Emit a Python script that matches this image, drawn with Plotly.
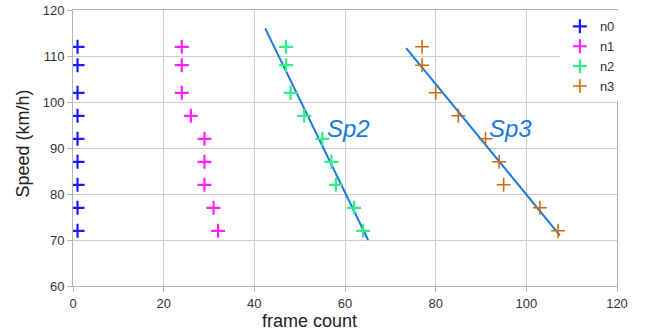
import plotly.graph_objects as go

speed = [112, 108, 102, 97, 92, 87, 82, 77, 72]
n0 = [1, 1, 1, 1, 1, 1, 1, 1, 1]
n1 = [24, 24, 24, 26, 29, 29, 29, 31, 32]
n2 = [47, 47, 48, 51, 55, 57, 58, 62, 64]
n3 = [77, 77, 80, 85, 91, 94, 95, 103, 107]

sp2_x = [42.4, 65.1]
sp2_y = [116.0, 70.0]
sp3_x = [73.5, 107.4]
sp3_y = [111.7, 71.0]

labels = ["Sp2", "Sp3"]
label_x = [60.8, 96.5]
label_y = [94.3, 94.3]

fig = go.Figure()
fig.add_trace(go.Scatter(x=sp2_x, y=sp2_y, mode="lines", line=dict(color="#1a7ae0", width=2), showlegend=False))
fig.add_trace(go.Scatter(x=sp3_x, y=sp3_y, mode="lines", line=dict(color="#1a7ae0", width=2), showlegend=False))

series = [("n0", n0, "#1a1aff", 2.2),
          ("n1", n1, "#ff22ff", 2.2),
          ("n2", n2, "#33ee88", 2.2),
          ("n3", n3, "#d06a10", 1.6)]
for name, xs, col, w in series:
    fig.add_trace(go.Scatter(x=xs, y=speed, mode="markers", name=name,
                             marker=dict(symbol="cross-thin", size=10, color=col,
                                         line=dict(color=col, width=w))))

for t, x, y in zip(labels, label_x, label_y):
    fig.add_annotation(x=x, y=y, text="<i>" + t + "</i>", showarrow=False,
                       font=dict(size=24, color="#1a7ae0", family="Liberation Sans"))

# axis titles (placed as in the reference, slightly off-centre)
fig.add_annotation(xref="paper", yref="paper", x=(309 - 73) / 544, y=-(321 - 286) / 276,
                   text="frame count", showarrow=False, xanchor="center", yanchor="middle",
                   font=dict(size=18, color="#222222"))
fig.add_annotation(xref="paper", yref="paper", x=-(73 - 22) / 544, y=(286 - 143.5) / 276,
                   text="Speed (km/h)", showarrow=False, textangle=-90,
                   xanchor="center", yanchor="middle", font=dict(size=18, color="#222222"))

fig.update_layout(
    width=645, height=332,
    margin=dict(l=73, r=28, t=10, b=46, autoexpand=False),
    paper_bgcolor="white", plot_bgcolor="white",
    font=dict(family="Liberation Sans", size=13, color="#333333"),
    legend=dict(x=0.895, y=0.995, xanchor="left", yanchor="top", bgcolor="white",
                font=dict(size=13, color="#333333"), tracegroupgap=0, itemwidth=30,
                borderwidth=0),
    showlegend=True,
)
fig.update_xaxes(range=[0, 120], tickvals=[0, 20, 40, 60, 80, 100, 120], showgrid=True,
                 gridcolor="#cccccc", gridwidth=1, zeroline=False, showline=True, linecolor="#b3b3b3",
                 mirror=True, ticks="outside", ticklen=5, tickcolor="#b3b3b3", automargin=False)
fig.update_yaxes(range=[60, 120], tickvals=[60, 70, 80, 90, 100, 110, 120], showgrid=True,
                 gridcolor="#cccccc", gridwidth=1, zeroline=False, showline=True, linecolor="#b3b3b3",
                 mirror=True, ticks="outside", ticklen=5, tickcolor="#b3b3b3", automargin=False)

fig.write_html("out.html", config={"displayModeBar": False},
               post_script="document.body.style.margin='0';")
